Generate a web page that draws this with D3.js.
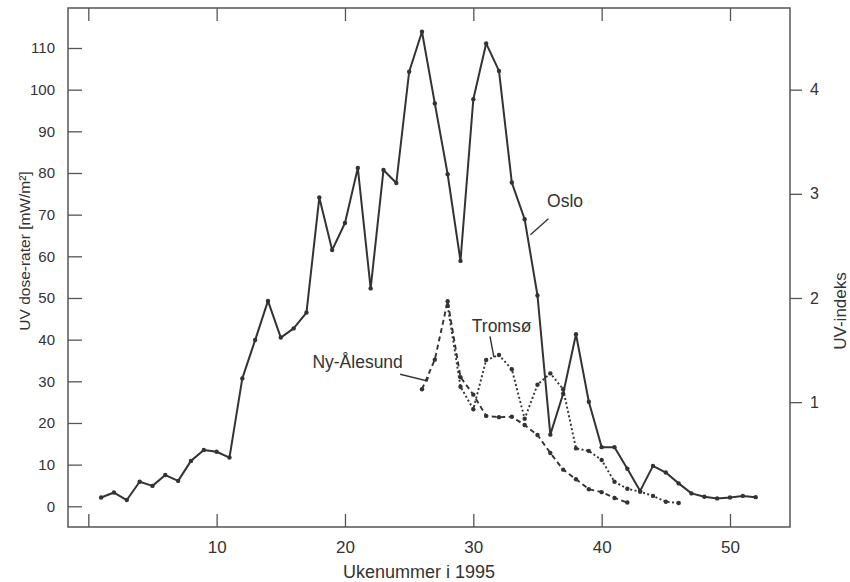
<!DOCTYPE html>
<html>
<head>
<meta charset="utf-8">
<script src="https://cdn.jsdelivr.net/npm/d3@7"></script>
<style>
  html, body { margin: 0; padding: 0; background: #fff; }
  svg { display: block; font-family: "Liberation Sans", Arial, sans-serif; }
</style>
</head>
<body>
<svg id="chart" width="850" height="582"></svg>
<script>
// Weekly mean UV dose rates (mW/m²), 1995
const osloWeeks = [1,2,3,4,5,6,7,8,9,10,11,12,13,14,15,16,17,18,19,20,21,22,23,24,25,26,
                   27,28,29,30,31,32,33,34,35,36,37,38,39,40,41,42,43,44,45,46,47,48,49,50,51,52];
const osloValues = [2.1,3.3,1.5,5.9,4.9,7.5,6.1,10.9,13.5,13.1,11.7,30.7,39.9,49.3,40.5,42.7,46.5,
                    74.1,61.5,68.0,81.2,52.3,80.7,77.6,104.3,113.9,96.7,79.7,58.9,97.7,111.1,104.5,
                    77.7,68.9,50.6,17.2,27.0,41.3,25.1,14.2,14.2,9.0,3.7,9.7,8.1,5.5,3.1,2.3,1.9,
                    2.1,2.5,2.2];

const tromsoWeeks = [28,29,30,31,32,33,34,35,36,37,38,39,40,41,42,43,44,45,46];
const tromsoValues = [48.1,28.7,23.3,35.1,36.3,32.9,21.0,29.2,31.9,28.1,13.9,13.3,11.1,5.9,4.2,3.5,2.5,1.1,0.8];

const nyAlesundWeeks = [26,27,28,29,30,31,32,33,34,35,36,37,38,39,40,41,42];
const nyAlesundValues = [28.1,35.2,49.2,31.0,26.8,21.7,21.4,21.5,19.5,17.1,12.8,8.8,6.5,4.1,3.4,2.0,0.9];

// Axis ticks
const xTicks = [0,10,20,30,40,50];
const xTickLabels = ["", "10", "20", "30", "40", "50"];
const yTicks = [0,10,20,30,40,50,60,70,80,90,100,110];
const uvTicks = [1,2,3,4];
const mWPerUV = 25; // 1 UV-index unit = 25 mW/m²

const xTitle = "Ukenummer i 1995";
const yTitle = "UV dose-rater [mW/m²]";
const y2Title = "UV-indeks";

// Layout
const frame = { left: 68, right: 790, top: 8, bottom: 527 };
const ink = "#333";
const frameInk = "#555";
const baseFont = "'Liberation Sans', Arial, sans-serif";
const narrowFont = "'Liberation Sans Narrow', 'Arial Narrow', 'Liberation Sans', Arial, sans-serif";

const svg = d3.select("#chart");

const x = d3.scaleLinear().domain([0, 50]).range([88.3, 730]);
const y = d3.scaleLinear().domain([0, 110]).range([506.3, 48]);
const yUV = d3.scaleLinear().domain([0, 110 / mWPerUV]).range([506.3, 48]);

// Frame
svg.append("rect")
  .attr("x", frame.left).attr("y", frame.top)
  .attr("width", frame.right - frame.left)
  .attr("height", frame.bottom - frame.top)
  .attr("fill", "none").attr("stroke", frameInk).attr("stroke-width", 1.5);

function styleAxis(g, size, family) {
  g.select(".domain").remove();
  g.selectAll(".tick line").attr("stroke", frameInk).attr("stroke-width", 1.3);
  g.selectAll(".tick text")
    .attr("fill", ink)
    .style("font-size", size + "px")
    .style("font-family", family);
}

// Bottom axis: inward ticks
const xAxisBottom = d3.axisBottom(x).tickValues(xTicks)
  .tickSizeInner(-13).tickSizeOuter(0).tickPadding(14)
  .tickFormat((d, i) => xTickLabels[i]);
svg.append("g").attr("transform", `translate(0,${frame.bottom})`)
  .call(xAxisBottom).call(g => styleAxis(g, 17, baseFont));

// Top axis: inward ticks, no labels
const xAxisTop = d3.axisTop(x).tickValues(xTicks)
  .tickSizeInner(-13).tickSizeOuter(0).tickFormat("");
svg.append("g").attr("transform", `translate(0,${frame.top})`)
  .call(xAxisTop).call(g => styleAxis(g, 17, baseFont));

// Left axis: inward ticks
const yAxis = d3.axisLeft(y).tickValues(yTicks)
  .tickSizeInner(-14).tickSizeOuter(0).tickPadding(13);
svg.append("g").attr("transform", `translate(${frame.left},0)`)
  .call(yAxis).call(g => styleAxis(g, 15, narrowFont));

// Right axis: UV-index, outward ticks
const y2Axis = d3.axisRight(yUV).tickValues(uvTicks)
  .tickSizeInner(12).tickSizeOuter(0).tickPadding(8)
  .tickFormat(d3.format("d"));
svg.append("g").attr("transform", `translate(${frame.right},0)`)
  .call(y2Axis).call(g => styleAxis(g, 16, baseFont));

// Axis titles
svg.append("text")
  .attr("x", 419).attr("y", 578)
  .attr("text-anchor", "middle")
  .attr("fill", ink).style("font-size", "18px")
  .text(xTitle);

svg.append("text")
  .attr("transform", "translate(30,251) rotate(-90)")
  .attr("text-anchor", "middle")
  .attr("fill", ink).style("font-size", "15.5px")
  .text(yTitle);

svg.append("text")
  .attr("transform", "translate(846,311) rotate(-90)")
  .attr("text-anchor", "middle")
  .attr("fill", ink).style("font-size", "17px")
  .text(y2Title);

// Series
const series = [
  { name: "Oslo", weeks: osloWeeks, values: osloValues, dash: null, width: 2 },
  { name: "Ny-Ålesund", weeks: nyAlesundWeeks, values: nyAlesundValues, dash: "5,3.5", width: 1.9 },
  { name: "Tromsø", weeks: tromsoWeeks, values: tromsoValues, dash: "2,2.4", width: 1.9 }
];

const line = d3.line().x(d => x(d[0])).y(d => y(d[1]));

series.forEach(s => {
  const pts = s.weeks.map((w, i) => [w, s.values[i]]);
  svg.append("path")
    .datum(pts)
    .attr("d", line)
    .attr("fill", "none")
    .attr("stroke", ink)
    .attr("stroke-width", s.width)
    .attr("stroke-linejoin", "round")
    .attr("stroke-dasharray", s.dash);
  svg.append("g").selectAll("circle")
    .data(pts).join("circle")
    .attr("cx", d => x(d[0]))
    .attr("cy", d => y(d[1]))
    .attr("r", 2.2)
    .attr("fill", ink);
});

// Series labels with leader lines (data-space anchors)
const labels = [
  { text: "Oslo", tx: 35.75, ty: 71.8, leader: [[35.85, 69.0], [34.45, 65.2]] },
  { text: "Tromsø", tx: 29.88, ty: 41.9, leader: [[31.3, 40.8], [31.6, 35.8]] },
  { text: "Ny-Ålesund", tx: 17.46, ty: 33.1, leader: [[24.3, 31.7], [26.4, 30.1], [26.5, 31.0]] }
];

labels.forEach(l => {
  svg.append("text")
    .attr("x", x(l.tx)).attr("y", y(l.ty))
    .attr("fill", ink).style("font-size", "17.5px")
    .text(l.text);
  svg.append("path")
    .datum(l.leader)
    .attr("d", line)
    .attr("fill", "none")
    .attr("stroke", ink)
    .attr("stroke-width", 1.4);
});
</script>
</body>
</html>
